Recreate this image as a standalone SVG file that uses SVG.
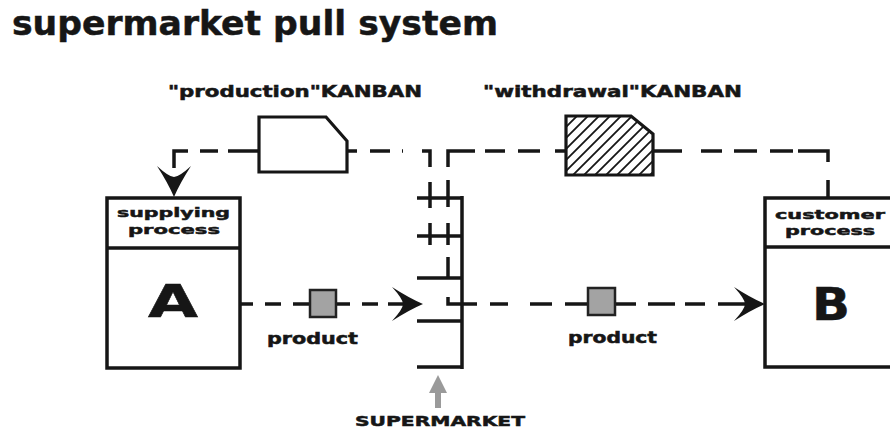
<svg xmlns="http://www.w3.org/2000/svg" width="890" height="430" viewBox="0 0 890 430">
<style>
.t{font-family:"DejaVu Sans","Liberation Sans",sans-serif;font-weight:bold;fill:#161616;stroke:#161616;stroke-width:0.5}
.box{fill:#fff;stroke:#161616;stroke-width:3.5}
.ln{fill:none;stroke:#161616;stroke-width:3.5;stroke-linecap:butt}
.kb{stroke:#161616;stroke-width:3.2;stroke-linejoin:miter}
.sq{fill:#a3a3a3;stroke:#222;stroke-width:2.5}
</style>
<defs>
<path id="ah" d="M0,0 Q-14,-6 -31,-17 Q-20,-5 -20,0 Q-20,5 -31,17 Q-14,6 0,0 Z" fill="#161616"/>
<pattern id="hatch" patternUnits="userSpaceOnUse" width="11" height="11">
<rect width="11" height="11" fill="#fff"/>
<path d="M-1,12 L12,-1 M-3,3 L3,-3 M8,14 L14,8" stroke="#161616" stroke-width="1.8"/>
</pattern>
</defs>
<rect width="890" height="430" fill="#fff"/>

<g id="title">
<text class="t" x="12" y="35" font-size="34" textLength="486" lengthAdjust="spacingAndGlyphs" stroke-width="1.6">supermarket pull system</text>
</g>

<g id="connectors">
<!-- production kanban loop -->
<path class="ln" d="M174,151 L188,151 M200,151 L218,151 M228,151 L259,151 M347,151 L357,151 M370,151 L390,151 M402,151 L403,151 M422,151 L430,151 L430,167 M430,182 L430,208 M430,223 L430,245 M174,149.25 L174,168"/>
<use href="#ah" transform="translate(174,197) rotate(90)"/>
<!-- withdrawal kanban loop -->
<path class="ln" d="M828,198 L828,180 M828,162 L828,151 L798,151 M793,151 L770,151 M757,151 L734,151 M722,151 L701,151 M682,151 L653,151 M566,151 L555,151 M540,151 L518,151 M505,151 L485,151 M475,151 L448,151 L448,167 M448,180 L448,207 M448,223 L448,245 M448,257 L448,278 M448,297 L448,304 L477,304 M490,304 L508,304 M530,304 L552,304 M565,304 L588,304 M615,304 L636,304 M648,304 L675,304 M685,304 L705,304 M718,304 L745,304"/>
<use href="#ah" transform="translate(765,304)"/>
<!-- product flow A to supermarket -->
<path class="ln" d="M240,304 L253,304 M265,304 L281,304 M293,304 L310,304 M336,304 L350,304 M362,304 L378,304 M388,304 L403,304"/>
<use href="#ah" transform="translate(423,304)"/>
</g>

<g id="production-kanban">
<text class="t" x="168" y="97" font-size="15" textLength="254" lengthAdjust="spacingAndGlyphs">"production"KANBAN</text>
<path class="kb" fill="#fff" d="M259,117 L326,117 L347,141 L347,172 L259,172 Z"/>
</g>

<g id="withdrawal-kanban">
<text class="t" x="483" y="97" font-size="15" textLength="259" lengthAdjust="spacingAndGlyphs">"withdrawal"KANBAN</text>
<path class="kb" fill="url(#hatch)" d="M566,116 L631,116 L653,134 L653,175 L566,175 Z"/>
</g>

<g id="supplying-process">
<rect class="box" x="107" y="198" width="133" height="170"/>
<line class="ln" x1="107" y1="248" x2="240" y2="248"/>
<text class="t" x="117" y="217" font-size="13" textLength="113" lengthAdjust="spacingAndGlyphs">supplying</text>
<text class="t" x="128" y="234" font-size="13" textLength="92" lengthAdjust="spacingAndGlyphs">process</text>
<text class="t" x="148" y="317" font-size="44" textLength="50" lengthAdjust="spacingAndGlyphs" stroke-width="1.5">A</text>
</g>

<g id="customer-process">
<rect class="box" x="765" y="198" width="140" height="169"/>
<line class="ln" x1="765" y1="247" x2="905" y2="247"/>
<text class="t" x="775" y="219" font-size="13" textLength="110" lengthAdjust="spacingAndGlyphs">customer</text>
<text class="t" x="785" y="235" font-size="13" textLength="90" lengthAdjust="spacingAndGlyphs">process</text>
<text class="t" x="812" y="320" font-size="44" textLength="38" lengthAdjust="spacingAndGlyphs" stroke-width="1.5">B</text>
</g>

<g id="supermarket">
<path class="ln" d="M462,196 L462,369 M417,198 L462,198 M417,236 L462,236 M417,278 L462,278 M417,321 L462,321 M417,367 L462,367"/>
<path d="M438,375 L447,393 L441,393 L441,408 L435,408 L435,393 L429,393 Z" fill="#9a9a9a"/>
<text class="t" x="355" y="426" font-size="14" textLength="170" lengthAdjust="spacingAndGlyphs">SUPERMARKET</text>
</g>

<g id="product-1">
<rect class="sq" x="310" y="290" width="26" height="27"/>
<text class="t" x="267" y="344" font-size="15" textLength="91" lengthAdjust="spacingAndGlyphs">product</text>
</g>

<g id="product-2">
<rect class="sq" x="588" y="288" width="27" height="27"/>
<text class="t" x="568" y="343" font-size="15" textLength="89" lengthAdjust="spacingAndGlyphs">product</text>
</g>
</svg>
